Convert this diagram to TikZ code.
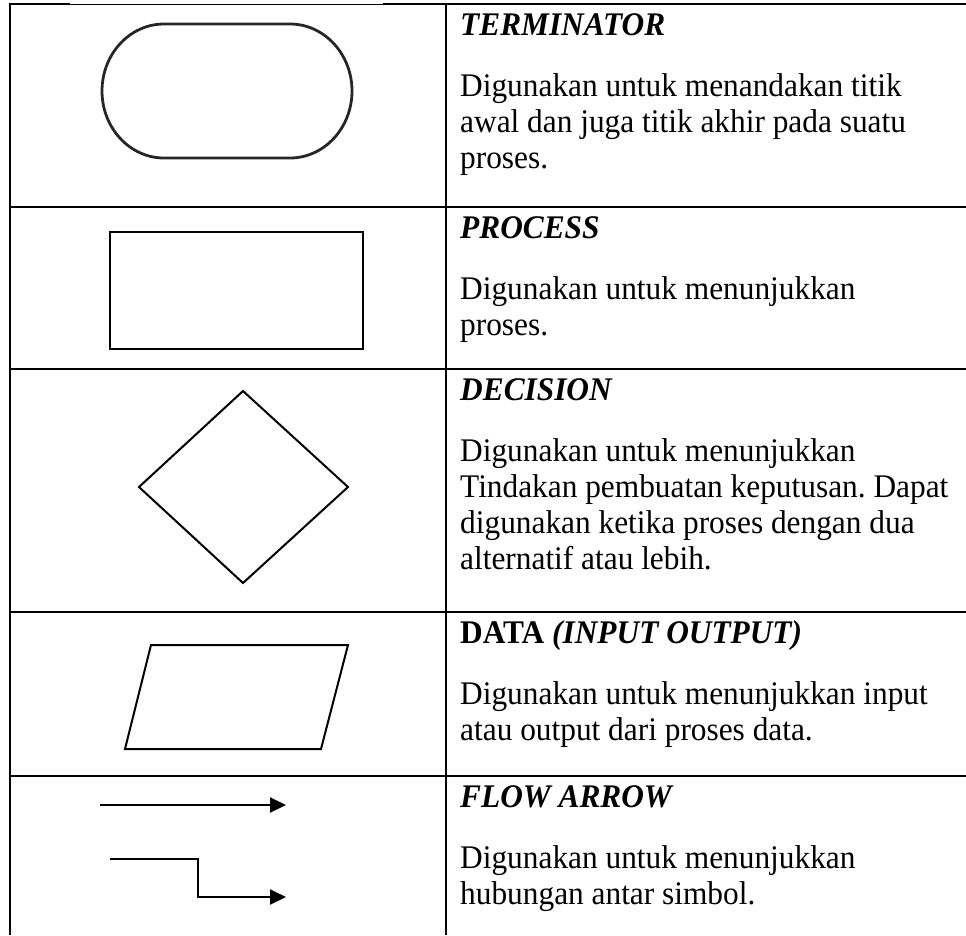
\documentclass[tikz,border=0pt]{standalone}
\usepackage{fontspec}
\setmainfont[FakeStretch=0.95]{Liberation Serif}
\usetikzlibrary{arrows.meta}
\frenchspacing
\begin{document}
\begin{tikzpicture}[x=1pt,y=-1pt,
  gridline/.style={line width=2pt, black},
  thingrid/.style={line width=1pt, black},
  symb/.style={line width=2pt, black, line join=miter},
  termline/.style={line width=2.8pt, black!85},
  flow/.style={line width=2pt, black, -{Triangle[length=16pt,width=15pt]}},
  body/.style={anchor=base west, inner sep=0pt, font=\fontsize{33}{36}\selectfont},
  title/.style={body, font=\fontsize{33}{36}\selectfont\bfseries\itshape}]
\useasboundingbox (0,0) rectangle (966,935);
% table grid
\draw[gridline] (10,4) -- (70,4);
\draw[thingrid] (70,4) -- (383,4);
\draw[gridline] (383,4) -- (966,4);
\draw[gridline] (10,3) -- (10,935);
\draw[gridline] (446,3) -- (446,935);
\foreach \yy in {207,369,612,776} \draw[gridline] (9,\yy) -- (966,\yy);
% terminator
\draw[termline] (290,24) .. controls (324.2,24) and (352,54) .. (352,91)
  .. controls (352,128) and (324.2,158) .. (290,158) -- (164,158)
  .. controls (129.8,158) and (102,128) .. (102,91)
  .. controls (102,54) and (129.8,24) .. (164,24) -- cycle;
% process
\draw[symb] (110,232) rectangle (363,349);
% decision
\draw[symb] (243,391) -- (348,487) -- (243,583) -- (139,487) -- cycle;
% data
\draw[symb] (151,645) -- (348,645) -- (321,749) -- (125,749) -- cycle;
% flow arrows
\coordinate (f1s) at (100,805);
\coordinate (f1e) at (286,805);
\coordinate (f2s) at (110,859);
\coordinate (f2e) at (286,897);
\draw[flow] (f1s) -- (f1e);
\draw[flow] (f2s) -- (198,859) |- (f2e);
% texts
\node[title] (t1) at (460,35) {TERMINATOR};
\node[body] (b11) at (460,96) {Digunakan untuk menandakan titik};
\node[body] (b12) at (460,132) {awal dan juga titik akhir pada suatu};
\node[body] (b13) at (460,168) {proses.};
\node[title] (t2) at (460,238) {PROCESS};
\node[body] (b21) at (460,299) {Digunakan untuk menunjukkan};
\node[body] (b22) at (460,335) {proses.};
\node[title] (t3) at (460,400) {DECISION};
\node[body] (b31) at (460,461) {Digunakan untuk menunjukkan};
\node[body] (b32) at (460,497) {Tindakan pembuatan keputusan. Dapat};
\node[body] (b33) at (460,533) {digunakan ketika proses dengan dua};
\node[body] (b34) at (460,569) {alternatif atau lebih.};
\node[body] (t4) at (460,643) {\bfseries DATA \itshape(INPUT OUTPUT)};
\node[body] (b41) at (460,704) {Digunakan untuk menunjukkan input};
\node[body] (b42) at (460,740) {atau output dari proses data.};
\node[title] (t5) at (460,807) {FLOW ARROW};
\node[body] (b51) at (460,868) {Digunakan untuk menunjukkan};
\node[body] (b52) at (460,904) {hubungan antar simbol.};
\end{tikzpicture}
\end{document}
